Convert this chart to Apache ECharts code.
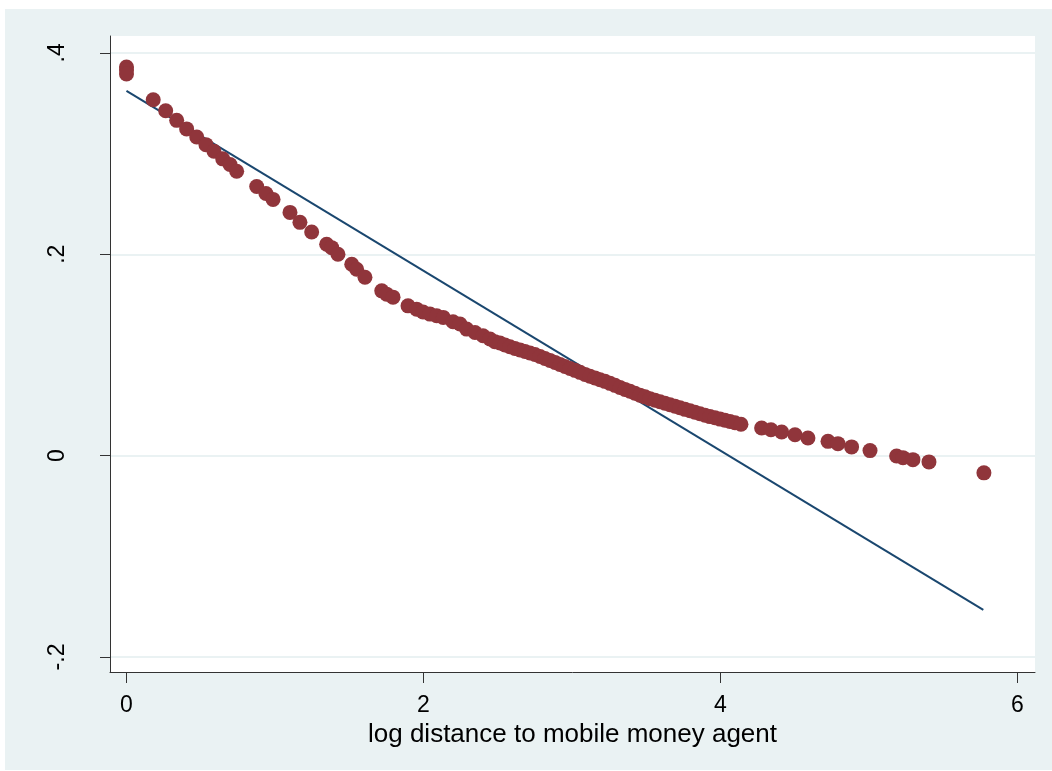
<!DOCTYPE html>
<html>
<head>
<meta charset="utf-8">
<script src="https://cdn.jsdelivr.net/npm/echarts@6/dist/echarts.min.js"></script>
<style>
  html, body { margin: 0; padding: 0; background: #ffffff; }
  #chart { position: absolute; left: 5px; top: 9px; width: 1047px; height: 761px; }
</style>
</head>
<body>
<div id="chart"></div>
<script>
// Predicted values by log distance to the nearest mobile money agent
const distX = [
  0, 0, 0,
  0.180, 0.264, 0.338, 0.405, 0.473, 0.535, 0.589, 0.648, 0.697, 0.742,
  0.877, 0.939, 0.987, 1.101, 1.168, 1.247, 1.348, 1.382, 1.424, 1.517, 1.550,
  1.606, 1.719, 1.752, 1.795, 1.896, 1.954, 1.997, 2.044, 2.089, 2.133, 2.199,
  2.246, 2.291, 2.347, 2.401, 2.448, 2.481, 2.515,
  2.549, 2.582, 2.616, 2.650, 2.684, 2.717, 2.751, 2.785, 2.818, 2.852, 2.886,
  2.919, 2.953, 2.987, 3.020, 3.054, 3.088, 3.121, 3.155, 3.189, 3.222, 3.256,
  3.290, 3.323, 3.357, 3.391, 3.424, 3.458, 3.492, 3.525, 3.559, 3.593, 3.626,
  3.660, 3.694, 3.727, 3.761, 3.795, 3.828, 3.862, 3.896, 3.929, 3.963, 3.997,
  4.030, 4.064, 4.098, 4.138,
  4.277, 4.340, 4.412, 4.502, 4.589, 4.724, 4.791, 4.883, 5.007, 5.186, 5.229,
  5.296, 5.404, 5.774
];
const predY = [
  0.386, 0.383, 0.379,
  0.3535, 0.3426, 0.3330, 0.3245, 0.3165, 0.3089, 0.3023, 0.2948, 0.2891, 0.2825,
  0.2673, 0.2604, 0.2545, 0.2416, 0.2317, 0.2221, 0.2099, 0.2066, 0.2000, 0.1901, 0.1851,
  0.1772, 0.1637, 0.1604, 0.1574, 0.1488, 0.1455, 0.1426, 0.1406, 0.1389, 0.1373, 0.1330,
  0.1307, 0.1257, 0.1223, 0.1191, 0.1158, 0.1132, 0.1119,
  0.1099, 0.1082, 0.1064, 0.1050, 0.1035, 0.1020, 0.1005, 0.0985, 0.0965, 0.0946, 0.0926,
  0.0906, 0.0886, 0.0866, 0.0847, 0.0827, 0.0807, 0.0789, 0.0772, 0.0754, 0.0738, 0.0718,
  0.0698, 0.0678, 0.0658, 0.0639, 0.0619, 0.0601, 0.0584, 0.0566, 0.0550, 0.0535, 0.0520,
  0.0505, 0.0490, 0.0475, 0.0460, 0.0446, 0.0431, 0.0416, 0.0401, 0.0388, 0.0376, 0.0363,
  0.0351, 0.0339, 0.0327, 0.0312,
  0.0274, 0.0257, 0.0235, 0.0208, 0.0175, 0.0142, 0.0119, 0.0087, 0.0050, -0.0003, -0.0020,
  -0.0040, -0.0062, -0.0171
];

// Linear fit endpoints
const fitX = [0, 5.770];
const fitY = [0.3624, -0.1532];

// Axis ticks and labels
const xTicks = [0, 2, 4, 6];
const yTicks = [-0.2, 0, 0.2, 0.4];
const yTickLabels = ['-.2', '0', '.2', '.4'];
const xTitle = 'log distance to mobile money agent';

const FONT = 'Liberation Sans, Arial, sans-serif';
const AXIS_COLOR = '#333333';

const chart = echarts.init(document.getElementById('chart'), null, { renderer: 'canvas' });

chart.setOption({
  animation: false,
  backgroundColor: '#EAF2F3',
  grid: {
    left: 105, top: 27, width: 925, height: 636,
    show: true, backgroundColor: '#ffffff', borderWidth: 0,
    containLabel: false
  },
  xAxis: {
    type: 'value',
    min: -0.111, max: 6.118,
    name: xTitle,
    nameLocation: 'middle',
    nameGap: 40,
    nameTextStyle: { fontFamily: FONT, fontSize: 26, color: '#000000', verticalAlign: 'top' },
    axisLine: { show: true, onZero: false, lineStyle: { color: AXIS_COLOR, width: 1 } },
    axisTick: { show: true, customValues: xTicks, length: 11, lineStyle: { color: AXIS_COLOR, width: 1 } },
    axisLabel: {
      customValues: xTicks, margin: 22,
      fontFamily: FONT, fontSize: 23, color: '#000000',
      formatter: v => String(Math.round(v))
    },
    splitLine: { show: false }
  },
  yAxis: {
    type: 'value',
    min: -0.2149, max: 0.4168,
    axisLine: { show: true, onZero: false, lineStyle: { color: AXIS_COLOR, width: 1 } },
    axisTick: { show: true, customValues: yTicks, length: 10, lineStyle: { color: AXIS_COLOR, width: 1 } },
    axisLabel: {
      customValues: yTicks, margin: 41, rotate: 90,
      fontFamily: FONT, fontSize: 23, color: '#000000',
      formatter: v => {
        const i = yTicks.findIndex(t => Math.abs(t - v) < 1e-6);
        return i >= 0 ? yTickLabels[i] : '';
      }
    },
    splitLine: { show: true, lineStyle: { color: '#EAF2F3', width: 2 } }
  },
  series: [
    {
      type: 'line',
      data: fitX.map((x, i) => [x, fitY[i]]),
      showSymbol: false,
      lineStyle: { color: '#1A476F', width: 2 },
      z: 2
    },
    {
      type: 'scatter',
      data: distX.map((x, i) => [x, predY[i]]),
      symbol: 'circle',
      symbolSize: 15,
      itemStyle: { color: '#90353B', opacity: 1 },
      z: 3
    }
  ]
});
</script>
</body>
</html>
